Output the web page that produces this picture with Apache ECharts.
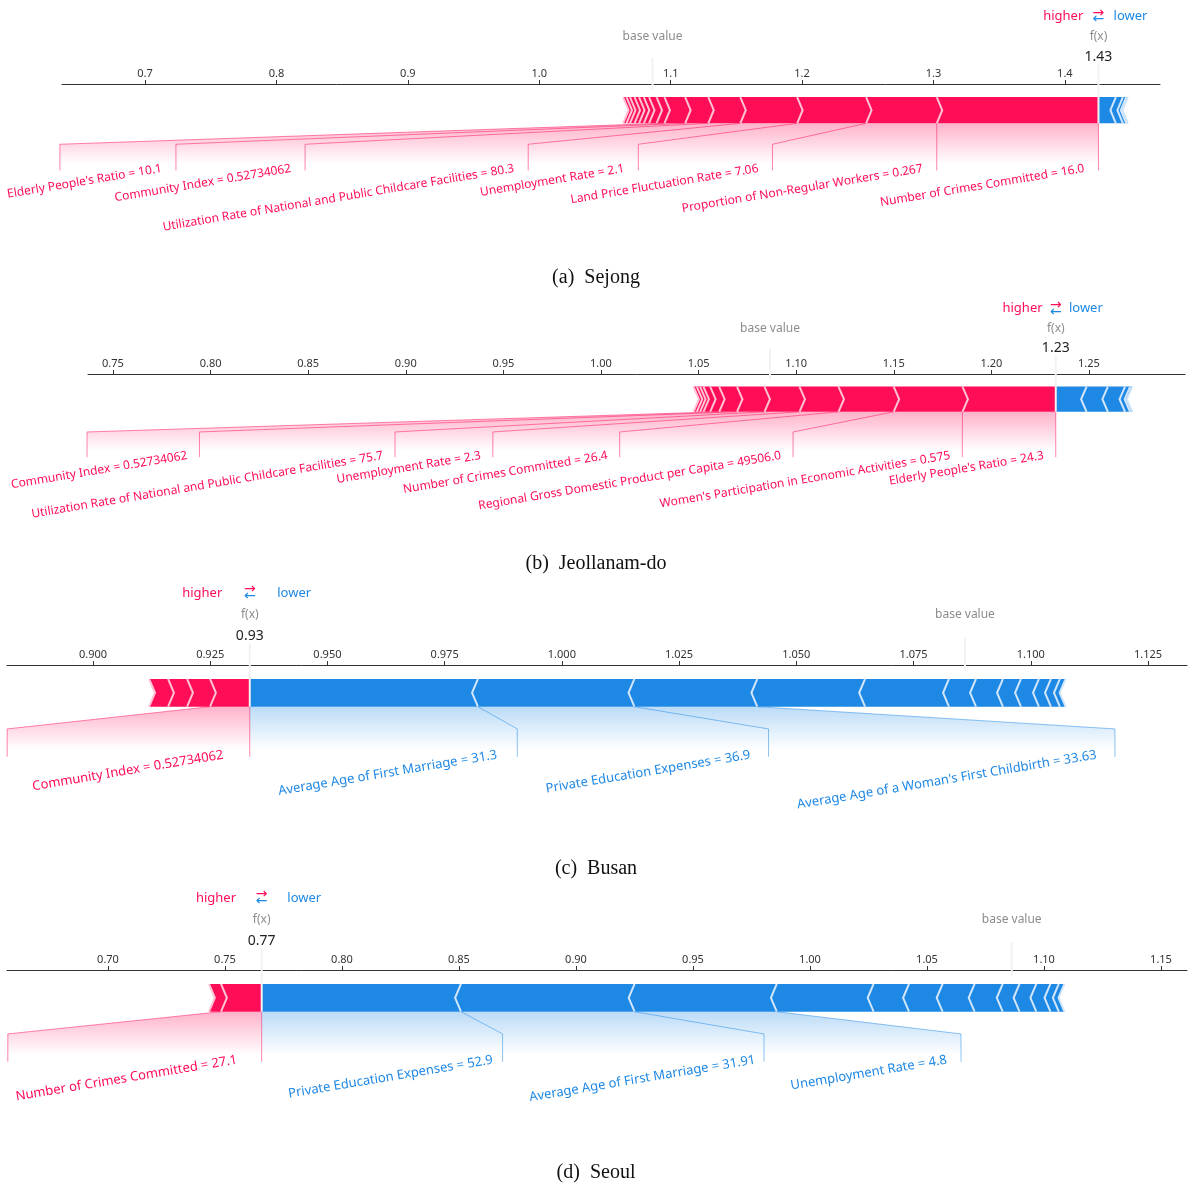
<!DOCTYPE html>
<html>
<head>
<meta charset="utf-8">
<script src="https://cdn.jsdelivr.net/npm/echarts@6/dist/echarts.min.js"></script>
<style>html,body{margin:0;background:#fff}#chart{width:1192px;height:1184px}</style>
</head>
<body>
<div id="chart"></div>
<script>
// ---- data ----
const captions = ['(a)  Sejong', '(b)  Jeollanam-do', '(c)  Busan', '(d)  Seoul'];
const baseValues = [1.08622, 1.08659, 1.08596, 1.0862];

// shap effects, ordered from f(x) outward
const sejongPos = [0.12306, 0.05377, 0.05247, 0.04326, 0.02437, 0.0176, 0.01576, 0.00602, 0.00571, 0.00396, 0.00365, 0.00343, 0.00343, 0.00267, 0.00259];
const sejongNeg = [0.01325, 0.00534, 0.00259, 0.00122];
const jeonnamPos = [0.0478, 0.03524, 0.02828, 0.01998, 0.01793, 0.01409, 0.00912, 0.00461, 0.00343, 0.00174, 0.00169, 0.00169];
const jeonnamNeg = [0.0158, 0.0109, 0.0088, 0.0026, 0.0011];
const busanPos = [0.00847, 0.0049, 0.00405, 0.00404];
const busanNeg = [0.04866, 0.03337, 0.0262, 0.02299, 0.01789, 0.00576, 0.00575, 0.00384, 0.00383, 0.00256, 0.00191, 0.00122];
const seoulPos = [0.01739, 0.00513];
const seoulNeg = [0.08517, 0.07419, 0.06077, 0.04137, 0.01513, 0.01436, 0.01367, 0.01201, 0.00718, 0.00718, 0.00603, 0.00358, 0.0024];

const sejongPosLabels = [
  'Number of Crimes Committed = 16.0',
  'Proportion of Non-Regular Workers = 0.267',
  'Land Price Fluctuation Rate = 7.06',
  'Unemployment Rate = 2.1',
  'Utilization Rate of National and Public Childcare Facilities = 80.3',
  'Community Index = 0.52734062',
  "Elderly People's Ratio = 10.1"
];
const jeonnamPosLabels = [
  "Elderly People's Ratio = 24.3",
  "Women's Participation in Economic Activities = 0.575",
  'Regional Gross Domestic Product per Capita = 49506.0',
  'Number of Crimes Committed = 26.4',
  'Unemployment Rate = 2.3',
  'Utilization Rate of National and Public Childcare Facilities = 75.7',
  'Community Index = 0.52734062'
];
const busanPosLabels = ['Community Index = 0.52734062'];
const busanNegLabels = [
  'Average Age of First Marriage = 31.3',
  'Private Education Expenses = 36.9',
  "Average Age of a Woman's First Childbirth = 33.63"
];
const seoulPosLabels = ['Number of Crimes Committed = 27.1'];
const seoulNegLabels = [
  'Private Education Expenses = 52.9',
  'Average Age of First Marriage = 31.91',
  'Unemployment Rate = 4.8'
];

const sejongTicks = [0.7, 0.8, 0.9, 1.0, 1.1, 1.2, 1.3, 1.4];
const jeonnamTicks = [0.75, 0.8, 0.85, 0.9, 0.95, 1.0, 1.05, 1.1, 1.15, 1.2, 1.25];
const busanTicks = [0.9, 0.925, 0.95, 0.975, 1.0, 1.025, 1.05, 1.075, 1.1, 1.125];
const seoulTicks = [0.7, 0.75, 0.8, 0.85, 0.9, 0.95, 1.0, 1.05, 1.1, 1.15];

// ---- layout: grid boxes, x range, y unit, where shap put the label slots ----
const layout = [
  { left: 62, width: 1098, top: 84, unit: 262, min: 0.6368, max: 1.4724, dec: 1, capY: 275, fs: 12,
    pos: sejongPos, neg: sejongNeg, posLabels: sejongPosLabels, negLabels: [], ticks: sejongTicks,
    posEdges: [1.3025, 1.1775, 1.0754, 0.9916, 0.8218, 0.7235, 0.6352], negEdges: [] },
  { left: 88, width: 1097, top: 374, unit: 252, min: 0.7372, max: 1.2992, dec: 2, capY: 561, fs: 12,
    pos: jeonnamPos, neg: jeonnamNeg, posLabels: jeonnamPosLabels, negLabels: [], ticks: jeonnamTicks,
    posEdges: [1.1851, 1.0984, 1.0096, 0.9446, 0.8945, 0.7943, 0.7367], negEdges: [] },
  { left: 7, width: 1180, top: 665, unit: 278, min: 0.88167, max: 1.13331, dec: 3, capY: 866, fs: 13,
    pos: busanPos, neg: busanNeg, posLabels: busanPosLabels, negLabels: busanNegLabels, ticks: busanTicks,
    posEdges: [0.8817], negEdges: [0.99049, 1.04407, 1.11794] },
  { left: 7, width: 1180, top: 970, unit: 278, min: 0.65684, max: 1.16111, dec: 2, capY: 1170, fs: 13,
    pos: seoulPos, neg: seoulNeg, posLabels: seoulPosLabels, negLabels: seoulNegLabels, ticks: seoulTicks,
    posEdges: [0.6572], negEdges: [0.86863, 0.98034, 1.06453] }
];

const RED = '#FF0D57', BLUE = '#1E88E5';
const RED_SEP = '#FFC3D5', BLUE_SEP = '#D1E6FA';
const FONT = 'Noto Sans';
const ROT = 9.5 * Math.PI / 180;
const BAR_W = 0.1;

const ctx = document.createElement('canvas').getContext('2d');
const measure = (t, size) => { ctx.font = size + 'px "' + FONT + '"'; return ctx.measureText(t).width; };
const sum = (a) => a.reduce((s, v) => s + v, 0);

const chart = echarts.init(document.getElementById('chart'));

const grid = [], xAxis = [], yAxis = [], series = [], title = [];

layout.forEach((p, i) => {
  const sPos = sum(p.pos), sNeg = sum(p.neg);
  const fx = baseValues[i] + sPos - sNeg;
  const gap = 0.03 * (sPos + sNeg);
  const indent = (p.max - p.min) / 200;

  grid.push({ left: p.left, top: p.top, width: p.width, height: 0.65 * p.unit });
  xAxis.push({
    gridIndex: i, type: 'value', position: 'top', min: p.min, max: p.max,
    axisLine: { show: true, onZero: false, lineStyle: { color: '#333', width: 1 } },
    axisTick: { show: true, customValues: p.ticks, length: 4, lineStyle: { color: '#333' } },
    axisLabel: { customValues: p.ticks, formatter: (v) => v.toFixed(p.dec), fontSize: 11, color: '#333', fontFamily: FONT, margin: 5 },
    splitLine: { show: false }
  });
  yAxis.push({ gridIndex: i, type: 'value', min: -0.5, max: 0.15, show: false });
  title.push({
    text: captions[i], left: 'center', top: p.capY - 12,
    textStyle: { fontFamily: 'Liberation Serif', fontSize: 20, fontWeight: 'normal', color: '#111' }
  });

  // bar segments
  const segs = [];
  let cur = fx;
  p.pos.forEach((e, k) => { segs.push([cur - e, cur, 1, k === 0 ? 1 : 0]); cur -= e; });
  cur = fx;
  p.neg.forEach((e, k) => { segs.push([cur, cur + e, -1, k === 0 ? 1 : 0]); cur += e; });

  series.push({
    type: 'custom', xAxisIndex: i, yAxisIndex: i, clip: false, z: 2, silent: true,
    data: segs,
    renderItem: (params, api) => {
      const lo = api.value(0), hi = api.value(1), kind = api.value(2), first = api.value(3);
      const ind = kind * indent, w = BAR_W, m = w / 2;
      let pts;
      if (first) {
        pts = kind > 0
          ? [[lo, 0], [hi, 0], [hi, w], [lo, w], [lo + ind, m]]
          : [[hi, 0], [lo, 0], [lo, w], [hi, w], [hi + ind, m]];
      } else {
        pts = [[lo, 0], [hi, 0], [hi + ind * 0.9, m], [hi, w], [lo, w], [lo + ind * 0.9, m]];
      }
      const sx = kind > 0 ? lo : hi;
      const sep = [[sx, 0], [sx + ind, m], [sx, w]];
      return {
        type: 'group', children: [
          { type: 'polygon', shape: { points: pts.map((q) => api.coord(q)) }, style: { fill: kind > 0 ? RED : BLUE } },
          { type: 'polyline', z2: 10, shape: { points: sep.map((q) => api.coord(q)) },
            style: { stroke: kind > 0 ? RED_SEP : BLUE_SEP, lineWidth: 2, fill: 'none' } }
        ]
      };
    }
  });

  // label connectors + texts, and shading
  const labelItems = [], shadeItems = [];
  [[p.pos, p.posLabels, p.posEdges, 1], [p.neg, p.negLabels, p.negEdges, -1]].forEach(([eff, names, edges, sign]) => {
    if (!names.length) return;
    let val = fx, start = fx;
    names.forEach((n, k) => {
      val -= sign * eff[k];
      labelItems.push([val, edges[k], start, sign, k]);
      start = edges[k];
    });
    shadeItems.push([val, edges[names.length - 1], sign]);
  });

  series.push({
    type: 'custom', xAxisIndex: i, yAxisIndex: i, clip: false, z: 1, silent: true,
    data: shadeItems,
    renderItem: (params, api) => {
      const pre = api.value(0), edge = api.value(1), sign = api.value(2);
      const pts = [[fx, 0], [pre, 0], [edge, -0.08], [edge, -0.2], [fx, -0.2]].map((q) => api.coord(q));
      const y0 = api.coord([fx, 0])[1], y1 = api.coord([fx, -0.155])[1];
      const rgb = sign > 0 ? '255,0,81' : '30,136,229';
      const kids = [{
        type: 'polygon', shape: { points: pts },
        style: { fill: new echarts.graphic.LinearGradient(0, y0, 0, y1, [
          { offset: 0, color: 'rgba(' + rgb + ',0.3)' }, { offset: 1, color: 'rgba(' + rgb + ',0)' }], true) }
      }];
      if (sign > 0) {
        kids.push({ type: 'line', shape: { x1: pts[0][0], y1: y0, x2: pts[0][0], y2: api.coord([fx, -0.18])[1] },
          style: { stroke: 'rgba(255,13,87,0.5)', lineWidth: 1 } });
      }
      return { type: 'group', children: kids };
    }
  });

  series.push({
    type: 'custom', xAxisIndex: i, yAxisIndex: i, clip: false, z: 3, silent: true,
    data: labelItems,
    renderItem: (params, api) => {
      const val = api.value(0), edge = api.value(1), start = api.value(2), sign = api.value(3), k = api.value(4);
      const name = sign > 0 ? p.posLabels[k] : p.negLabels[k];
      const a = api.coord([val, 0]), b = api.coord([edge, -0.08]), c = api.coord([edge, -0.18]);
      const anc = api.coord([start - sign * gap, -0.15]);
      const ty = sign > 0 ? anc[1] : anc[1] + measure(name, p.fs) * Math.sin(ROT);
      return {
        type: 'group', children: [
          { type: 'polyline', shape: { points: [a, b, c] },
            style: { stroke: sign > 0 ? 'rgba(255,13,87,0.5)' : 'rgba(30,136,229,0.5)', lineWidth: 1, fill: 'none' } },
          { type: 'text', x: anc[0], y: ty, rotation: ROT,
            style: { text: name, fill: sign > 0 ? RED : BLUE, fontSize: p.fs, fontFamily: FONT,
              align: sign > 0 ? 'right' : 'left', verticalAlign: 'top' } }
        ]
      };
    }
  });

  // base value / f(x) / higher-lower
  series.push({
    type: 'custom', xAxisIndex: i, yAxisIndex: i, clip: false, z: 4, silent: true,
    data: [[baseValues[i], fx]],
    renderItem: (params, api) => {
      const base = api.value(0), out = api.value(1);
      const b1 = api.coord([base, 0.13]), b2 = api.coord([base, 0.25]);
      const o1 = api.coord([out, 0]), o2 = api.coord([out, 0.24]);
      const yBase = api.coord([out, 0.33])[1], yVal = api.coord([out, 0.25])[1];
      const yHi = api.coord([out, 0.405])[1];
      const xHi = api.coord([out - gap, 0])[0], xLo = api.coord([out + gap, 0])[0];
      const txt = (x, y, s, size, fill, align, fam) => ({
        type: 'text', x, y, style: { text: s, fontSize: size, fontFamily: fam || FONT, fill, align: align || 'center', verticalAlign: 'middle' }
      });
      return {
        type: 'group', children: [
          { type: 'line', shape: { x1: b1[0], y1: b1[1], x2: b2[0], y2: b2[1] }, style: { stroke: '#F2F2F2', lineWidth: 2 } },
          { type: 'line', shape: { x1: o1[0], y1: o1[1], x2: o2[0], y2: o2[1] }, style: { stroke: '#F2F2F2', lineWidth: 2 } },
          txt(b1[0], yBase, 'base value', 12, '#8c8c8c'),
          txt(o1[0], yBase, 'f(x)', 12, '#8c8c8c'),
          { type: 'text', x: o1[0], y: yVal - 1,
            style: { text: out.toFixed(2), fontSize: 14, fontFamily: FONT, fill: '#222', align: 'center', verticalAlign: 'middle',
              backgroundColor: '#fff', padding: [0, 2] } },
          txt(xHi, yHi - 1, 'higher', 13, RED, 'right'),
          txt(xLo, yHi - 1, 'lower', 13, BLUE, 'left'),
          txt(o1[0], api.coord([out, 0.425])[1] + 1, '\u2192', 14, RED, 'center', 'DejaVu Sans'),
          txt(o1[0], api.coord([out, 0.4])[1] + 1, '\u2190', 14, BLUE, 'center', 'DejaVu Sans')
        ]
      };
    }
  });
});

chart.setOption({
  animation: false,
  backgroundColor: '#fff',
  title, grid, xAxis, yAxis, series
});
</script>
</body>
</html>
